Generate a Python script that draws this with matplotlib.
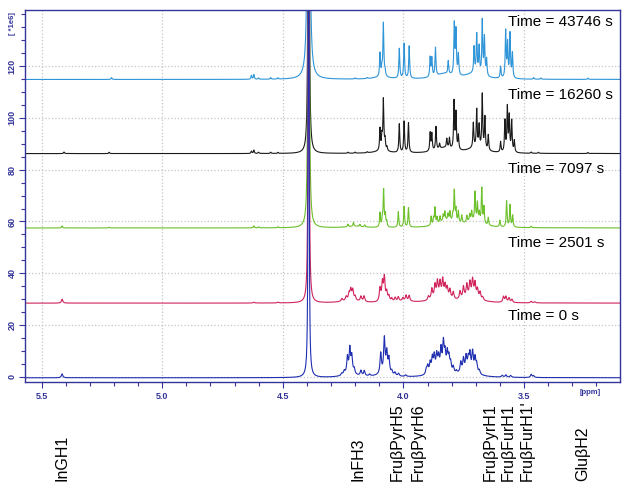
import numpy as np
import matplotlib.pyplot as plt
import matplotlib.transforms as mtransforms
from matplotlib.ticker import MultipleLocator, FixedLocator

plt.rcParams['font.family'] = ['Liberation Sans', 'DejaVu Sans']

# spectra, from t = 0 s (bottom) to t = 43746 s (top)
times = [0, 2501, 7097, 16260, 43746]
offsets = [-0.3, 28.5, 57.5, 86.2, 114.8]
colors = ['#1f2fb0', '#d0245a', '#6cc02a', '#1a1a1a', '#2f95d8']
widths = [0.0035, 0.0035, 0.0022, 0.0022, 0.0022]

water_ppm = 4.393
water_area = [0.0007, 0.0008, 0.0012, 0.0010, 0.0026]  # height * hwhm^2

# peak lists (ppm, height)
blue_ppm = [5.415, 4.255, 4.245, 4.232, 4.222, 4.214, 4.204, 4.176, 4.162, 4.140,
            4.094, 4.079, 4.069, 4.060, 4.048, 4.035, 4.020, 3.990,
            3.905, 3.899, 3.889, 3.880, 3.872, 3.862, 3.854, 3.844, 3.834, 3.827,
            3.818, 3.811, 3.804, 3.793, 3.780,
            3.762, 3.751, 3.740, 3.731, 3.724, 3.713, 3.703, 3.696, 3.685,
            3.590, 3.575, 3.555, 3.470, 3.460]
blue_h = [1.5, 0.8, 1.5, 6.5, 9.5, 6.5, 2.0, 2.0, 2.0, 0.7,
          8.0, 13.5, 8.0, 6.0, 1.5, 1.2, 1.0, 0.6,
          2.0, 3.0, 4.0, 5.5, 6.0, 6.0, 5.0, 8.0, 10.5, 6.5,
          7.0, 5.5, 3.5, 2.5, 1.0,
          4.0, 5.0, 5.5, 4.5, 6.5, 7.5, 5.5, 3.5, 1.5,
          0.7, 0.9, 0.7, 1.2, 0.7]

red_ppm = [5.415, 4.620, 4.520, 4.255, 4.237, 4.225, 4.218, 4.210, 4.200, 4.176, 4.163,
           4.097, 4.087, 4.079, 4.069, 4.060, 4.048, 4.034, 4.021, 4.002, 3.989, 3.976,
           3.896, 3.882, 3.869, 3.859, 3.848, 3.837, 3.827, 3.818, 3.807, 3.793,
           3.765, 3.751, 3.737, 3.724, 3.713, 3.703, 3.693, 3.682, 3.671,
           3.585, 3.575, 3.562, 3.550, 3.470, 3.455]
red_h = [1.5, 0.3, 0.3, 1.0, 1.5, 2.5, 3.8, 3.8, 1.5, 2.0, 2.2,
         5.0, 7.0, 9.0, 3.5, 2.0, 1.2, 1.5, 1.7, 1.2, 2.2, 2.2,
         1.5, 4.0, 5.0, 6.0, 5.5, 6.5, 4.5, 3.8, 3.5, 2.8,
         3.0, 4.5, 5.0, 5.5, 6.5, 5.5, 3.5, 2.8, 1.2,
         2.2, 2.2, 1.7, 1.2, 0.6, 0.4]

green_ppm = [5.415, 5.220, 4.620, 4.600, 4.520, 4.230, 4.207, 4.180, 4.160,
             4.097, 4.087, 4.082, 4.075, 4.069, 4.021, 3.997, 3.979,
             3.885, 3.875, 3.869, 3.860, 3.848, 3.835, 3.828, 3.815, 3.807, 3.795,
             3.789, 3.782, 3.772, 3.758,
             3.737, 3.725, 3.717, 3.703, 3.693, 3.685, 3.675, 3.666, 3.648,
             3.600, 3.572, 3.558, 3.547, 3.470]
green_h = [0.8, 0.3, 0.8, 0.4, 0.4, 1.0, 1.5, 0.8, 0.8,
           5.5, 3.0, 14.0, 4.5, 2.0, 6.0, 8.0, 7.5,
           3.5, 2.5, 6.5, 2.5, 2.5, 2.5, 3.5, 2.5, 3.5, 2.5,
           12.0, 5.0, 4.5, 3.0,
           2.5, 2.5, 3.5, 11.0, 7.0, 3.5, 13.5, 6.5, 3.0,
           2.5, 10.0, 8.5, 4.5, 0.6]

black_ppm = [5.407, 5.220, 4.630, 4.620, 4.600, 4.550, 4.520, 4.230, 4.200, 4.150,
             4.097, 4.089, 4.083, 4.076, 4.068, 4.017, 3.997, 3.979,
             3.889, 3.882, 3.865, 3.850, 3.820, 3.809, 3.790, 3.782, 3.772,
             3.710, 3.696, 3.686, 3.673, 3.662, 3.648,
             3.597, 3.579, 3.569, 3.561, 3.551, 3.540, 3.470, 3.440, 3.235]
black_h = [0.6, 0.5, 0.9, 1.3, 0.5, 0.5, 0.4, 0.4, 0.4, 0.4,
           8.5, 5.0, 19.5, 4.0, 1.5, 11.0, 12.0, 11.5,
           7.0, 6.5, 9.0, 2.0, 3.5, 4.0, 18.5, 14.0, 5.5,
           9.5, 14.5, 8.5, 21.0, 12.5, 6.0,
           4.0, 12.0, 17.0, 13.5, 12.0, 4.5, 0.5, 0.4, 0.4]

cyan_ppm = [5.210, 4.630, 4.620, 4.600, 4.550, 4.520, 4.200, 4.150,
            4.097, 4.089, 4.083, 4.076, 4.017, 3.997, 3.976,
            3.889, 3.882, 3.867, 3.814, 3.789, 3.782, 3.772,
            3.707, 3.696, 3.686, 3.673, 3.664, 3.655,
            3.597, 3.576, 3.568, 3.558, 3.548, 3.460, 3.430, 3.235]
cyan_h = [0.7, 1.5, 1.8, 0.5, 0.6, 0.5, 0.4, 0.4,
          9.0, 3.0, 20.5, 2.0, 11.5, 13.5, 12.5,
          7.5, 7.0, 11.0, 5.0, 19.5, 17.0, 8.0,
          10.0, 15.0, 10.5, 21.0, 14.5, 6.5,
          4.5, 18.0, 13.0, 17.0, 9.5, 0.6, 0.5, 0.5]

# broad underlying humps (ppm, height), hwhm below
hump_ppm = [[4.22, 4.08, 3.85, 3.73], [4.22, 4.0, 3.845, 3.72], [4.2, 3.82, 3.71],
            [4.09, 3.83, 3.70], [4.09, 3.83, 3.71]]
hump_h = [[1.0, 1.0, 2.0, 2.0], [1.0, 0.5, 2.0, 2.0], [0.6, 2.5, 2.5],
          [0.8, 2.0, 2.0], [0.8, 2.0, 2.0]]
hump_w = 0.04

peaks_ppm = [blue_ppm, red_ppm, green_ppm, black_ppm, cyan_ppm]
peaks_h = [blue_h, red_h, green_h, black_h, cyan_h]

labels = ['InGH1', 'InFH3', 'FruβPyrH5', 'FruβPyrH6', 'FruβPyrH1',
          'FruβFurH1', "FruβFurH1'", 'GluβH2']
label_ppm = [5.414, 4.188, 4.026, 3.939, 3.641, 3.566, 3.488, 3.256]


def lorentz(x, x0, h, g):
    return h * g**2 / ((x - x0)**2 + g**2)


ppm = np.linspace(3.08, 5.6, 8000)

fig = plt.figure(figsize=(6.32, 4.92), dpi=100)
ax = fig.add_axes([25 / 632, 1 - 382 / 492, 595 / 632, 372 / 492])

navy = '#34349a'
text_y = [23.4, 51.6, 80.2, 108.8, 137.0]

# draw from top spectrum down so the t = 0 trace ends up on top
for i in reversed(range(5)):
    y = np.zeros_like(ppm)
    for p, h in zip(peaks_ppm[i], peaks_h[i]):
        y += lorentz(ppm, p, h, widths[i])
    for p, h in zip(hump_ppm[i], hump_h[i]):
        y += lorentz(ppm, p, h, hump_w)
    gw = 0.0012
    y += lorentz(ppm, water_ppm, water_area[i] / gw**2, gw)
    ax.plot(ppm, y + offsets[i], color=colors[i], lw=0.8)
    ax.text(3.566, text_y[i], f'Time = {times[i]} s', fontsize=11,
            ha='left', va='center', color='black')

ax.set_xlim(5.569, 3.102)
ax.set_ylim(-1.93, 141.6)

ax.xaxis.set_major_locator(MultipleLocator(0.5))
ax.xaxis.set_minor_locator(MultipleLocator(0.1))
ax.yaxis.set_major_locator(FixedLocator([0, 20, 40, 60, 80, 100, 120]))
ax.yaxis.set_minor_locator(MultipleLocator(5))
ax.xaxis.set_major_formatter(plt.FormatStrFormatter('%.1f'))

ax.grid(True, which='major', color='#c4c4c4', linestyle=':', lw=0.9)
ax.tick_params(which='both', direction='out', colors=navy, labelsize=6.5, width=0.8)
ax.tick_params(which='major', length=4)
ax.tick_params(which='minor', length=3)
ax.tick_params(axis='y', labelrotation=90, pad=2)
ax.tick_params(axis='x', pad=3)
for lab in ax.get_xticklabels() + ax.get_yticklabels():
    lab.set_fontweight('bold')
for lab in ax.get_yticklabels():
    lab.set_va('center')
for s in ax.spines.values():
    s.set_color(navy)
    s.set_linewidth(1.0)

fig.text(13 / 632, 1 - 24 / 492, '[ *1e6]', rotation=90, fontsize=5.5,
         fontweight='bold', color=navy, ha='center', va='center')
fig.text(590 / 632, 1 - 392 / 492, '[ppm]', fontsize=5.5, fontweight='bold',
         color=navy, ha='center', va='center')

trans = mtransforms.blended_transform_factory(ax.transData, fig.transFigure)
for name, p in zip(labels, label_ppm):
    ax.text(p, 1 - 481 / 492, name, transform=trans, rotation=90, fontsize=11.5,
            ha='center', va='bottom', clip_on=False)

fig.savefig('out.png', dpi=100)
